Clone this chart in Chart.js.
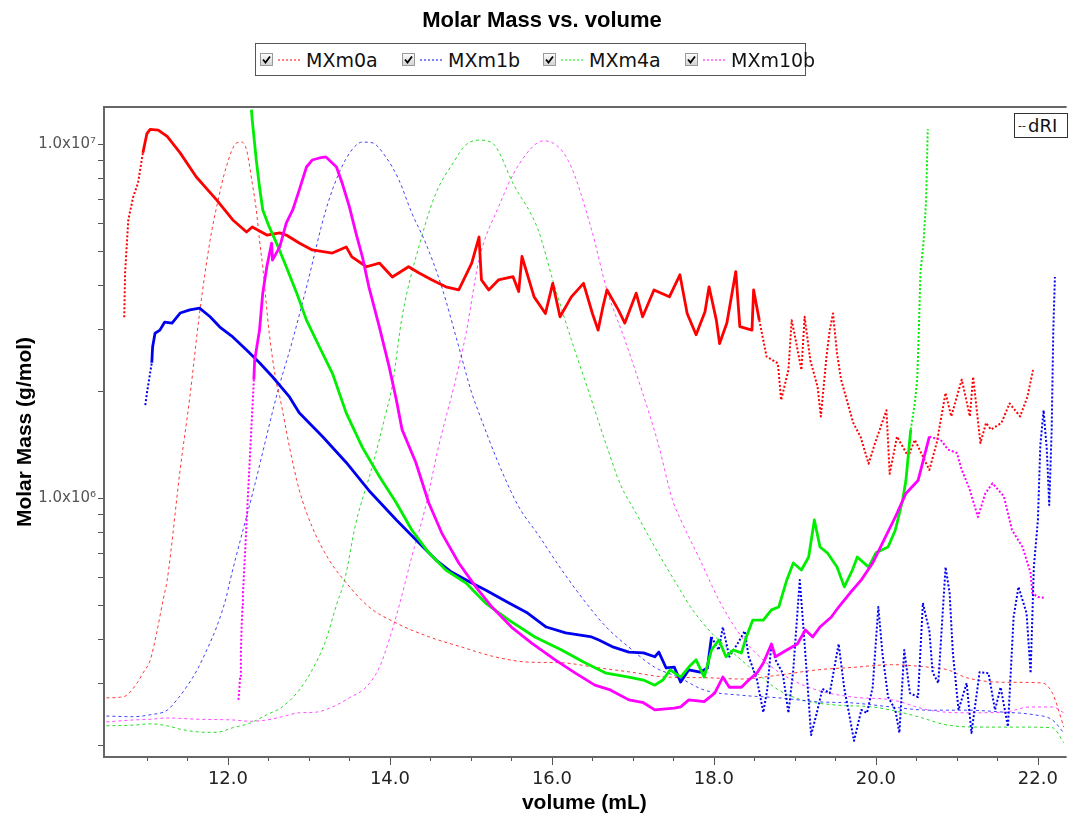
<!DOCTYPE html>
<html>
<head>
<meta charset="utf-8">
<title>Molar Mass vs. volume</title>
<script src="https://cdn.jsdelivr.net/npm/chart.js@4.4.1/dist/chart.umd.min.js"></script>
<style>
  body { margin: 0; background: #fff; }
  #page { position: relative; width: 1070px; height: 816px; overflow: hidden; font-family: 'DejaVu Sans', sans-serif; }
  #massChart { position: absolute; left: 0; top: 0; }
  #chartTitle { position: absolute; left: 0; top: 7px; width: 1084px; text-align: center; font: bold 22px 'Liberation Sans', Arial, sans-serif; }
  #legendBox { position: absolute; left: 255px; top: 43px; width: 549px; height: 31px; border: 1px solid #555; background: #fff; }
  .legend-item { position: absolute; top: 0; height: 31px; display: flex; align-items: center; font-size: 19px; color: #111; }
  .legend-item svg { display: block; }
  #riBox { position: absolute; left: 1014px; top: 113px; width: 52px; height: 23px; border: 1px solid #333; background: #fff; font-size: 18px; line-height: 23px; color: #111; }
  #riBox span { font-size: 11px; vertical-align: 3px; margin: 0 2px 0 3px; }
</style>
</head>
<body>
<div id="page">
  <canvas id="massChart" width="1070" height="816"></canvas>
  <div id="chartTitle">Molar Mass vs. volume</div>
  <div id="legendBox"></div>
  <div id="riBox"><span>--</span>dRI</div>
</div>
<script>
const seriesNames = ['MXm0a', 'MXm1b', 'MXm4a', 'MXm10b'];

// molar mass (g/mol) by elution volume (mL): [volume, mass]
const m0aMass = [
  [10.72, 3.24e6], [10.73, 4.32e6], [10.77, 6.10e6], [10.83, 7.08e6], [10.89, 7.76e6], [10.95, 9.44e6],
  [11.00, 1.07e7], [11.04, 1.10e7], [11.14, 1.095e7], [11.25, 1.05e7], [11.41, 9.44e6], [11.61, 8.07e6],
  [11.86, 6.95e6], [12.06, 6.10e6], [12.23, 5.64e6], [12.30, 5.83e6], [12.48, 5.53e6], [12.64, 5.61e6],
  [12.72, 5.53e6], [12.88, 5.25e6], [13.04, 5.02e6], [13.29, 4.92e6], [13.46, 5.12e6], [13.53, 4.80e6],
  [13.71, 4.50e6], [13.87, 4.61e6], [14.03, 4.21e6], [14.23, 4.50e6], [14.36, 4.32e6], [14.52, 4.13e6],
  [14.69, 3.95e6], [14.85, 3.87e6], [15.01, 4.61e6], [15.10, 5.46e6], [15.13, 4.13e6], [15.22, 3.87e6],
  [15.34, 4.13e6], [15.52, 4.22e6], [15.59, 3.83e6], [15.63, 4.81e6], [15.78, 3.70e6], [15.92, 3.32e6],
  [16.01, 4.04e6], [16.10, 3.25e6], [16.24, 3.70e6], [16.39, 4.04e6], [16.50, 3.32e6], [16.57, 2.98e6],
  [16.63, 3.47e6], [16.68, 3.87e6], [16.82, 3.40e6], [16.90, 3.12e6], [17.04, 3.79e6], [17.12, 3.25e6],
  [17.26, 3.87e6], [17.45, 3.70e6], [17.58, 4.27e6], [17.67, 3.32e6], [17.78, 2.89e6], [17.89, 3.36e6],
  [17.94, 3.95e6], [18.03, 3.18e6], [18.07, 2.73e6], [18.16, 3.12e6], [18.27, 4.36e6], [18.32, 3.05e6],
  [18.47, 2.98e6], [18.49, 3.87e6], [18.56, 3.18e6], [18.65, 2.51e6], [18.79, 2.40e6], [18.83, 1.89e6],
  [18.92, 2.30e6], [18.96, 3.18e6], [19.01, 2.79e6], [19.08, 2.30e6], [19.12, 3.25e6], [19.19, 2.45e6],
  [19.28, 2.06e6], [19.32, 1.70e6], [19.39, 2.51e6], [19.43, 2.98e6], [19.47, 3.32e6], [19.52, 2.56e6],
  [19.57, 2.16e6], [19.63, 1.93e6], [19.72, 1.63e6], [19.81, 1.49e6], [19.91, 1.25e6], [19.99, 1.43e6],
  [20.13, 1.77e6], [20.17, 1.17e6], [20.26, 1.49e6], [20.40, 1.31e6], [20.48, 1.46e6], [20.66, 1.20e6],
  [20.75, 1.43e6], [20.86, 1.98e6], [20.93, 1.70e6], [21.06, 2.16e6], [21.16, 1.70e6], [21.20, 2.20e6],
  [21.29, 1.43e6], [21.36, 1.63e6], [21.42, 1.56e6], [21.55, 1.63e6], [21.65, 1.85e6], [21.78, 1.70e6],
  [21.87, 1.93e6], [21.94, 2.30e6]
];
const m1bMass = [
  [10.98, 1.83e6], [11.00, 1.98e6], [11.06, 2.41e6], [11.07, 2.67e6], [11.10, 2.92e6], [11.16, 2.98e6],
  [11.22, 3.14e6], [11.31, 3.12e6], [11.41, 3.33e6], [11.53, 3.40e6], [11.65, 3.44e6], [11.78, 3.25e6],
  [11.90, 3.04e6], [12.06, 2.85e6], [12.23, 2.62e6], [12.39, 2.41e6], [12.55, 2.20e6], [12.76, 1.93e6],
  [12.88, 1.74e6], [13.17, 1.49e6], [13.46, 1.26e6], [13.74, 1.05e6], [14.08, 8.67e5], [14.36, 7.46e5],
  [14.57, 6.68e5], [14.76, 6.18e5], [15.01, 5.75e5], [15.18, 5.50e5], [15.47, 5.05e5], [15.70, 4.73e5],
  [15.93, 4.32e5], [16.17, 4.16e5], [16.35, 4.10e5], [16.49, 4.05e5], [16.58, 3.97e5], [16.76, 3.79e5],
  [16.95, 3.67e5], [17.13, 3.65e5], [17.27, 3.56e5], [17.32, 3.67e5], [17.41, 3.31e5], [17.51, 3.33e5],
  [17.59, 3.02e5], [17.69, 3.27e5], [17.83, 3.22e5], [17.92, 3.31e5], [17.97, 4.05e5], [18.06, 3.72e5],
  [18.11, 4.32e5], [18.19, 3.56e5], [18.29, 3.87e5], [18.38, 4.21e5], [18.43, 3.56e5], [18.53, 3.08e5],
  [18.61, 2.48e5], [18.66, 2.89e5], [18.71, 3.87e5], [18.76, 3.49e5], [18.85, 3.20e5], [18.92, 2.47e5],
  [18.98, 3.27e5], [19.06, 5.87e5], [19.11, 4.16e5], [19.20, 2.14e5], [19.27, 2.47e5], [19.34, 2.89e5],
  [19.43, 2.81e5], [19.54, 3.87e5], [19.61, 2.89e5], [19.66, 2.52e5], [19.73, 2.06e5], [19.82, 2.52e5],
  [19.89, 2.47e5], [19.96, 2.92e5], [20.03, 4.92e5], [20.08, 3.65e5], [20.15, 2.74e5], [20.24, 2.52e5],
  [20.29, 2.17e5], [20.35, 3.72e5], [20.42, 2.81e5], [20.52, 2.74e5], [20.58, 5.05e5], [20.66, 4.21e5],
  [20.70, 3.22e5], [20.77, 3.00e5], [20.86, 6.38e5], [20.91, 5.39e5], [20.95, 3.65e5], [21.02, 2.52e5],
  [21.12, 3.00e5], [21.18, 2.17e5], [21.28, 3.22e5], [21.39, 3.20e5], [21.47, 2.52e5], [21.54, 2.92e5],
  [21.63, 2.26e5], [21.70, 4.61e5], [21.76, 5.61e5], [21.86, 4.73e5], [21.91, 3.20e5], [21.95, 6.38e5],
  [22.00, 8.67e5], [22.03, 1.41e6], [22.07, 1.77e6], [22.11, 1.37e6], [22.14, 9.55e5], [22.17, 1.56e6],
  [22.19, 2.98e6], [22.21, 4.21e6]
];
const m4aMass = [
  [12.29, 1.25e7], [12.30, 1.17e7], [12.35, 9.01e6], [12.39, 7.56e6], [12.43, 6.51e6], [12.51, 5.83e6],
  [12.60, 5.25e6], [12.72, 4.50e6], [12.85, 3.79e6], [12.97, 3.18e6], [13.13, 2.67e6], [13.29, 2.25e6],
  [13.46, 1.74e6], [13.66, 1.39e6], [13.87, 1.15e6], [14.08, 9.68e5], [14.27, 8.12e5], [14.48, 7.00e5],
  [14.69, 6.26e5], [14.94, 5.75e5], [15.18, 5.05e5], [15.47, 4.52e5], [15.79, 4.05e5], [16.12, 3.72e5],
  [16.39, 3.44e5], [16.67, 3.20e5], [16.95, 3.12e5], [17.13, 3.06e5], [17.27, 2.96e5], [17.37, 3.06e5],
  [17.46, 3.27e5], [17.59, 3.12e5], [17.69, 3.33e5], [17.78, 3.49e5], [17.88, 3.12e5], [17.97, 3.72e5],
  [18.06, 3.97e5], [18.15, 3.56e5], [18.24, 3.72e5], [18.34, 3.65e5], [18.40, 4.05e5], [18.48, 4.52e5],
  [18.61, 4.52e5], [18.71, 4.83e5], [18.80, 4.92e5], [18.90, 5.87e5], [18.98, 6.55e5], [19.08, 6.26e5],
  [19.17, 6.81e5], [19.24, 8.67e5], [19.31, 7.27e5], [19.40, 7.00e5], [19.52, 6.38e5], [19.61, 5.61e5],
  [19.71, 6.26e5], [19.77, 6.81e5], [19.91, 6.38e5], [20.00, 7.00e5], [20.15, 7.27e5], [20.24, 8.12e5],
  [20.33, 9.87e5], [20.37, 1.12e6], [20.43, 1.56e6], [20.48, 1.85e6], [20.51, 2.16e6], [20.53, 2.98e6],
  [20.55, 4.32e6], [20.59, 5.35e6], [20.62, 6.95e6], [20.64, 1.10e7]
];
const m10bMass = [
  [12.13, 2.69e5], [12.14, 2.87e5], [12.15, 3.12e5], [12.16, 3.67e5], [12.17, 4.38e5], [12.18, 4.92e5],
  [12.185, 5.39e5], [12.19, 5.61e5], [12.32, 2.16e6], [12.33, 2.45e6], [12.39, 2.98e6], [12.43, 3.79e6],
  [12.48, 4.50e6], [12.54, 5.25e6], [12.55, 4.70e6], [12.64, 5.12e6], [12.72, 5.98e6], [12.80, 6.51e6],
  [12.88, 7.41e6], [12.97, 8.61e6], [13.04, 9.01e6], [13.13, 9.13e6], [13.21, 9.19e6], [13.34, 8.61e6],
  [13.41, 7.76e6], [13.50, 6.64e6], [13.58, 5.61e6], [13.66, 4.80e6], [13.74, 3.95e6], [13.87, 3.04e6],
  [13.99, 2.35e6], [14.08, 1.89e6], [14.15, 1.56e6], [14.32, 1.26e6], [14.48, 9.68e5], [14.64, 7.96e5],
  [14.85, 6.55e5], [15.06, 5.61e5], [15.26, 4.92e5], [15.50, 4.32e5], [15.75, 3.89e5], [16.04, 3.49e5],
  [16.29, 3.20e5], [16.53, 2.96e5], [16.72, 2.87e5], [16.95, 2.69e5], [17.13, 2.64e5], [17.27, 2.52e5],
  [17.51, 2.55e5], [17.59, 2.57e5], [17.69, 2.69e5], [17.88, 2.66e5], [18.01, 2.81e5], [18.11, 3.12e5],
  [18.19, 2.92e5], [18.34, 2.92e5], [18.43, 3.06e5], [18.53, 3.20e5], [18.61, 3.42e5], [18.71, 3.87e5],
  [18.76, 3.56e5], [18.90, 3.72e5], [19.03, 3.87e5], [19.13, 4.24e5], [19.22, 4.05e5], [19.31, 4.32e5],
  [19.45, 4.61e5], [19.54, 4.92e5], [19.68, 5.39e5], [19.82, 5.87e5], [19.96, 6.55e5], [20.10, 7.61e5],
  [20.24, 8.84e5], [20.37, 1.03e6], [20.52, 1.12e6], [20.66, 1.49e6], [20.80, 1.46e6], [20.89, 1.37e6],
  [21.00, 1.34e6], [21.06, 1.20e6], [21.15, 1.07e6], [21.26, 8.84e5], [21.35, 1.03e6], [21.44, 1.10e6],
  [21.58, 1.01e6], [21.68, 8.12e5], [21.81, 7.27e5], [21.91, 6.14e5], [21.93, 5.39e5], [22.00, 5.25e5],
  [22.09, 5.22e5]
];

// dRI detector signal, relative units (0-100): [volume, signal]
const m0aRi = [
  [10.50, 9.1], [10.67, 9.2], [10.75, 9.5], [10.88, 11.4], [10.95, 12.9], [11.04, 14.9], [11.12, 19.1],
  [11.20, 24.2], [11.25, 27.2], [11.41, 44.2], [11.53, 55.4], [11.65, 68.3], [11.78, 79.5], [11.86, 84.6],
  [11.98, 90.8], [12.11, 94.5], [12.17, 94.6], [12.23, 93.4], [12.30, 88.3], [12.35, 84.2], [12.39, 79.5],
  [12.43, 75.4], [12.51, 65.2], [12.60, 57.5], [12.64, 55.4], [12.76, 47.7], [12.88, 41.1], [13.04, 35.4],
  [13.25, 30.3], [13.46, 26.8], [13.74, 23.1], [14.08, 20.6], [14.48, 18.5], [14.89, 16.9], [15.30, 15.4],
  [15.71, 14.6], [16.12, 14.5], [16.53, 13.8], [16.95, 13.1], [17.41, 12.3], [17.88, 12.2], [18.34, 12.0],
  [18.80, 12.6], [19.27, 13.4], [19.73, 13.8], [20.19, 14.2], [20.66, 13.8], [20.89, 13.4], [21.12, 12.2],
  [21.58, 11.5], [22.05, 11.4], [22.18, 9.8], [22.32, 4.6]
];
const m1bRi = [
  [10.50, 6.3], [10.83, 6.2], [11.04, 6.5], [11.25, 7.2], [11.37, 8.8], [11.49, 10.8], [11.62, 13.4],
  [11.74, 16.5], [11.86, 20.0], [11.98, 24.6], [12.02, 26.8], [12.33, 41.8], [12.61, 56.0], [12.80, 64.2],
  [12.97, 72.3], [13.21, 84.2], [13.37, 89.8], [13.53, 93.4], [13.66, 94.6], [13.78, 94.5], [13.95, 92.3],
  [14.11, 88.8], [14.27, 83.7], [14.44, 79.1], [14.64, 72.3], [14.85, 63.1], [15.01, 56.0], [15.10, 52.9],
  [15.34, 45.2], [15.59, 38.5], [15.83, 34.2], [16.12, 28.8], [16.39, 24.2], [16.67, 20.0], [16.95, 16.9],
  [17.27, 13.8], [17.56, 12.3], [17.88, 10.3], [18.34, 9.5], [18.80, 9.1], [19.27, 8.5], [19.73, 8.3],
  [20.19, 7.7], [20.66, 7.2], [21.12, 7.2], [21.58, 6.9], [21.95, 6.5], [22.18, 5.7], [22.32, 3.7]
];
const m4aRi = [
  [10.50, 4.8], [10.83, 4.9], [11.04, 5.1], [11.25, 4.8], [11.44, 4.2], [11.74, 3.8], [11.86, 3.8],
  [12.06, 4.5], [12.27, 5.2], [12.48, 6.5], [12.67, 7.7], [12.88, 10.3], [13.04, 13.4], [13.21, 18.0],
  [13.34, 23.4], [13.44, 27.2], [13.58, 36.0], [13.78, 44.6], [13.95, 52.9], [14.03, 57.2], [14.15, 67.7],
  [14.38, 79.5], [14.57, 86.8], [14.78, 91.4], [14.94, 94.2], [15.10, 94.9], [15.26, 94.5], [15.53, 88.0],
  [15.83, 81.1], [16.01, 73.4], [16.24, 64.2], [16.46, 56.0], [16.68, 47.7], [16.85, 41.8], [17.04, 37.5],
  [17.27, 32.3], [17.51, 27.2], [17.74, 22.6], [17.97, 19.1], [18.24, 16.0], [18.53, 12.9], [18.80, 10.3],
  [19.08, 8.8], [19.50, 8.0], [19.96, 7.7], [20.19, 7.2], [20.52, 6.2], [20.89, 4.9], [21.35, 4.6],
  [21.81, 4.6], [22.18, 4.5], [22.32, 2.2]
];
const m10bRi = [
  [10.50, 5.4], [10.83, 5.7], [11.04, 5.8], [11.25, 6.0], [11.65, 5.8], [12.06, 5.7], [12.27, 5.5],
  [12.48, 5.7], [12.67, 6.2], [12.88, 6.8], [13.09, 6.9], [13.29, 7.7], [13.50, 9.1], [13.71, 10.8],
  [13.87, 13.8], [13.99, 18.0], [14.11, 23.1], [14.27, 30.8], [14.44, 38.5], [14.60, 47.7], [14.81, 58.0],
  [14.94, 65.2], [15.10, 76.5], [15.34, 84.6], [15.59, 91.1], [15.90, 94.8], [16.20, 91.8], [16.49, 81.1],
  [16.68, 71.8], [16.90, 64.2], [17.12, 56.0], [17.31, 48.3], [17.49, 39.5], [17.59, 36.5], [17.83, 30.3],
  [18.06, 24.2], [18.34, 18.5], [18.61, 14.9], [18.90, 12.3], [19.27, 10.3], [19.73, 9.2], [20.19, 8.8],
  [20.66, 7.2], [21.12, 6.8], [21.58, 6.9], [21.91, 7.7], [22.18, 7.7], [22.32, 6.8]
];

const xTicks = [12, 14, 16, 18, 20, 22];
const yTicks = [1e6, 1e7];

// styling
const lineColors = ['#ff0000', '#0000f0', '#00ee00', '#ff00ff'];
const riColors = ['rgba(255,20,20,0.85)', 'rgba(20,20,255,0.8)', 'rgba(0,215,0,0.85)', 'rgba(255,30,255,0.8)'];
// outside [denseFrom, denseTo) a trace is only scattered points
const denseFrom = [10.9, 11.05, 12.2, 12.3];
const denseTo = [18.55, 17.95, 20.4, 20.6];
const X_MIN = 10.47, X_MAX = 22.33;
const Y_MIN = 1.855e5, Y_MAX = 1.272e7;

const massSets = [m0aMass, m1bMass, m4aMass, m10bMass];
const riSets = [m0aRi, m1bRi, m4aRi, m10bRi];
const toXY = rows => rows.map(r => ({ x: r[0], y: r[1] }));

// legend row with check boxes
const legendBox = document.getElementById('legendBox');
const legendLeft = [4, 146, 287, 429];
seriesNames.forEach((name, i) => {
    const item = document.createElement('div');
    item.className = 'legend-item';
    item.style.left = legendLeft[i] + 'px';
    item.innerHTML =
        '<svg width="13" height="13"><defs><linearGradient id="cb' + i + '" x1="0" y1="0" x2="0" y2="1">' +
        '<stop offset="0" stop-color="#fdfdfd"/><stop offset="1" stop-color="#d2d2d2"/></linearGradient></defs>' +
        '<rect x="0.5" y="0.5" width="12" height="12" fill="url(#cb' + i + ')" stroke="#9a9a9a"/>' +
        '<path d="M3 6.5 L5.5 9.5 L10 3.5" stroke="#000" stroke-width="1.8" fill="none"/></svg>' +
        '<svg width="22" height="4" style="margin:0 6px 0 5px"><line x1="0" y1="2" x2="22" y2="2" stroke="' +
        lineColors[i] + '" stroke-width="1" stroke-dasharray="2 2"/></svg>' +
        '<span>' + name + '</span>';
    legendBox.appendChild(item);
});

const datasets = [];
// first dataset is drawn on top
[3, 2, 1, 0].forEach(i => {
    const sparse = ctx => ctx.p0.parsed.x < denseFrom[i] || ctx.p0.parsed.x >= denseTo[i];
    datasets.push({
        label: seriesNames[i],
        data: toXY(massSets[i]),
        yAxisID: 'y',
        borderColor: lineColors[i],
        borderWidth: 2.8,
        borderJoinStyle: 'round',
        pointRadius: 0,
        segment: {
            borderWidth: ctx => sparse(ctx) ? 2 : 2.8,
            borderDash: ctx => sparse(ctx) ? [2, 2] : undefined
        }
    });
});
riSets.forEach((rows, i) => {
    datasets.push({
        label: seriesNames[i] + ' dRI',
        data: toXY(rows),
        yAxisID: 'yRi',
        borderColor: riColors[i],
        borderWidth: 1,
        borderDash: [3, 3],
        cubicInterpolationMode: 'monotone',
        pointRadius: 0
    });
});

const superscript = { 5: '\u2075', 6: '\u2076', 7: '\u2077' };

// tick marks and frame, placed with the chart's own scales
const axisFrame = {
    id: 'axisFrame',
    afterDraw(chart) {
        const { ctx, chartArea: a, scales } = chart;
        const x = scales.x, y = scales.y;
        ctx.save();
        ctx.strokeStyle = '#555';
        ctx.lineWidth = 1;
        ctx.beginPath();
        for (let i = 22; i <= 44; i++) {
            const v = i / 2;
            if (v > X_MAX) break;
            const px = Math.round(x.getPixelForValue(v)) + 0.5;
            const len = xTicks.includes(v) ? 8 : 4;
            ctx.moveTo(px, a.bottom);
            ctx.lineTo(px, a.bottom + len);
        }
        for (let e = 5; e <= 7; e++) {
            for (let k = 1; k <= 9; k++) {
                const v = k * Math.pow(10, e);
                if (v < Y_MIN || v > Y_MAX) continue;
                const py = Math.round(y.getPixelForValue(v)) + 0.5;
                ctx.moveTo(a.left - 6, py);
                ctx.lineTo(a.left, py);
            }
        }
        ctx.stroke();
        ctx.lineWidth = 2;
        ctx.strokeStyle = '#666';
        ctx.beginPath();
        ctx.moveTo(a.right + 2, a.top);
        ctx.lineTo(a.left, a.top);
        ctx.lineTo(a.left, a.bottom);
        ctx.lineTo(a.right + 2, a.bottom);
        ctx.stroke();
        ctx.restore();
    }
};

new Chart(document.getElementById('massChart'), {
    type: 'line',
    data: { datasets: datasets },
    plugins: [axisFrame],
    options: {
        responsive: false,
        animation: false,
        events: [],
        layout: { padding: { top: 107, right: 2, left: 0, bottom: 0 } },
        plugins: {
            legend: { display: false },
            tooltip: { enabled: false }
        },
        scales: {
            x: {
                type: 'linear',
                min: X_MIN,
                max: X_MAX,
                bounds: 'data',
                grid: { display: false, drawTicks: false },
                border: { display: false },
                afterBuildTicks: scale => { scale.ticks = xTicks.map(v => ({ value: v })); },
                afterFit: scale => { scale.height = 59; },
                ticks: {
                    autoSkip: false,
                    maxRotation: 0,
                    padding: 12,
                    color: '#222',
                    font: { family: 'DejaVu Sans', size: 18 },
                    callback: v => v.toFixed(1)
                },
                title: {
                    display: true,
                    text: 'volume (mL)',
                    color: '#000',
                    padding: 0,
                    font: { family: 'Liberation Sans', size: 21, weight: 'bold' }
                }
            },
            y: {
                type: 'logarithmic',
                position: 'left',
                min: Y_MIN,
                max: Y_MAX,
                bounds: 'data',
                grid: { display: false, drawTicks: false },
                border: { display: false },
                afterBuildTicks: scale => { scale.ticks = yTicks.map(v => ({ value: v })); },
                afterFit: scale => { scale.width = 104; },
                ticks: {
                    autoSkip: false,
                    padding: 8,
                    color: '#555',
                    font: { family: 'DejaVu Sans', size: 15 },
                    callback: v => '1.0x10' + superscript[Math.round(Math.log10(v))]
                },
                title: {
                    display: true,
                    text: 'Molar Mass (g/mol)',
                    color: '#000',
                    padding: { top: 13, bottom: 0 },
                    font: { family: 'Liberation Sans', size: 21, weight: 'bold' }
                }
            },
            yRi: {
                type: 'linear',
                axis: 'y',
                position: 'right',
                display: false,
                min: 0,
                max: 100
            }
        }
    }
});
</script>
</body>
</html>
